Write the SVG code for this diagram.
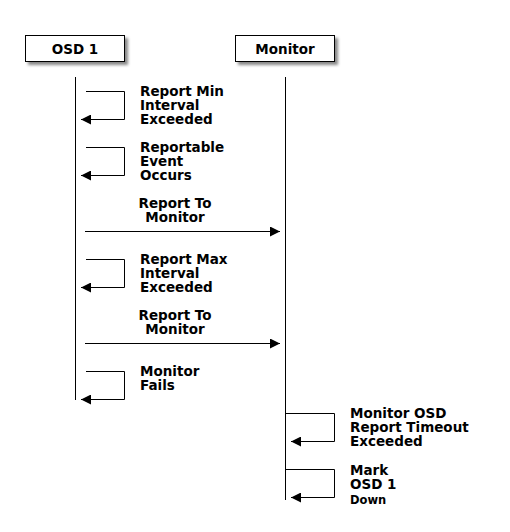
<svg xmlns="http://www.w3.org/2000/svg" width="510" height="532" viewBox="0 0 510 532">
<defs>
<filter id="sh" x="-10%" y="-30%" width="130%" height="180%"><feGaussianBlur stdDeviation="1.5"/></filter>
<marker id="ah" markerWidth="10" markerHeight="10" refX="10" refY="5" orient="auto" markerUnits="userSpaceOnUse"><path d="M0,0 L10,5 L0,10 Z" fill="#000"/></marker>
</defs>
<style>
text{font-family:"DejaVu Sans",Verdana,sans-serif;font-weight:bold;font-size:13.5px;fill:#000}
.box{fill:#fff;stroke:#000;stroke-width:1}
.shadow{fill:#888;filter:url(#sh)}
.life{stroke:#000;stroke-width:1;fill:none}
.msg{stroke:#000;stroke-width:1;fill:none;marker-end:url(#ah)}
</style>
<rect width="510" height="532" fill="#fff"/>
<g id="osd1">
<rect class="shadow" x="28" y="38" width="100" height="27"/>
<rect class="box" x="25.5" y="35.5" width="99" height="26"/>
<text x="75" y="53.5" text-anchor="middle">OSD 1</text>
</g>
<g id="monitor">
<rect class="shadow" x="238" y="38" width="100" height="27"/>
<rect class="box" x="235.5" y="35.5" width="99" height="26"/>
<text x="285" y="53.5" text-anchor="middle">Monitor</text>
</g>
<g id="lifelines">
<line class="life" x1="75.5" y1="77" x2="75.5" y2="400"/>
<line class="life" x1="285.5" y1="77" x2="285.5" y2="500"/>
</g>
<g id="connectors">
<path class="msg" d="M86,91.5 H124.5 V119.5 H81"/>
<path class="msg" d="M86,147.5 H124.5 V175.5 H81"/>
<path class="msg" d="M85,231.5 H280"/>
<path class="msg" d="M86,259.5 H124.5 V287.5 H81"/>
<path class="msg" d="M85,343.5 H280"/>
<path class="msg" d="M86,371.5 H124.5 V399.5 H81"/>
<path class="msg" d="M286,413.5 H334.5 V441.5 H291"/>
<path class="msg" d="M286,469.5 H334.5 V497.5 H291"/>
</g>
<g id="labels">
<text x="140" y="96">Report Min</text>
<text x="140" y="110">Interval</text>
<text x="140" y="124">Exceeded</text>
<text x="140" y="152">Reportable</text>
<text x="140" y="166">Event</text>
<text x="140" y="180">Occurs</text>
<text x="175" y="207.5" text-anchor="middle">Report To</text>
<text x="175" y="221.5" text-anchor="middle">Monitor</text>
<text x="140" y="264">Report Max</text>
<text x="140" y="278">Interval</text>
<text x="140" y="292">Exceeded</text>
<text x="175" y="319.5" text-anchor="middle">Report To</text>
<text x="175" y="333.5" text-anchor="middle">Monitor</text>
<text x="140" y="376">Monitor</text>
<text x="140" y="390">Fails</text>
<text x="350" y="418">Monitor OSD</text>
<text x="350" y="432">Report Timeout</text>
<text x="350" y="446">Exceeded</text>
<text x="350" y="474.5">Mark</text>
<text x="350" y="489">OSD 1</text>
<text x="350" y="503.5" style="font-size:11.5px">Down</text>
</g>
</svg>
